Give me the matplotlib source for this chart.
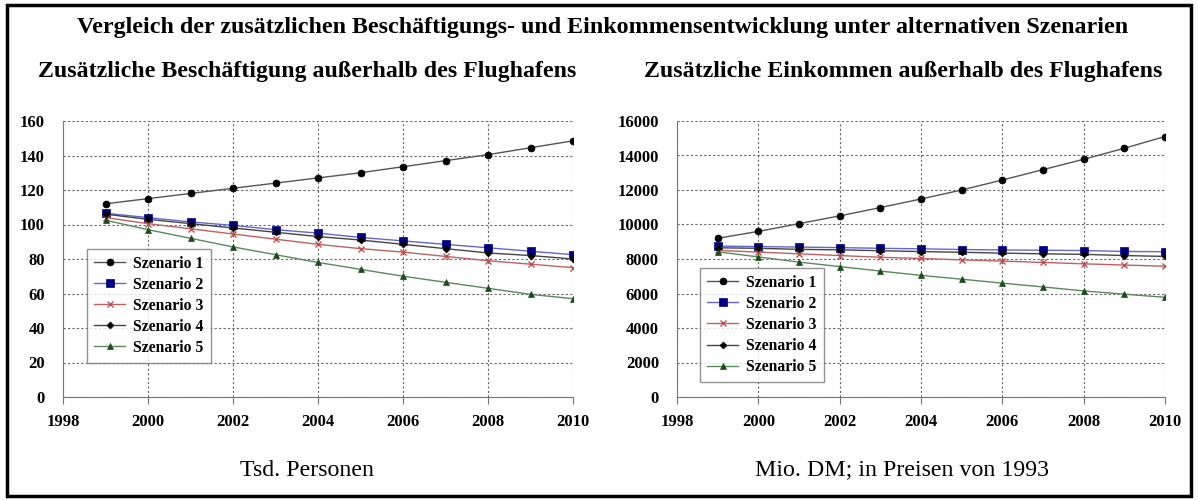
import numpy as np
import matplotlib.pyplot as plt
from matplotlib.patches import Rectangle

years = list(range(1999, 2011))
labels = ['Szenario 1', 'Szenario 2', 'Szenario 3', 'Szenario 4', 'Szenario 5']

# Tsd. Personen
besch_1 = [112, 115, 118, 121, 124, 127, 130, 133.5, 137, 140.5, 144.5, 148.5]
besch_2 = [106.5, 104, 101.5, 99.5, 97, 95, 92.5, 90.5, 88.5, 86.5, 84.5, 82.5]
besch_3 = [104, 100.5, 97.5, 94.5, 91.5, 88.5, 86, 84, 81.5, 79, 77, 75]
besch_4 = [106, 103, 100.5, 98, 95.5, 93, 91, 88.5, 86, 83.5, 82, 80]
besch_5 = [102.5, 97, 92, 87, 82.5, 78, 74, 70, 66.5, 63, 59.5, 57]

# Mio. DM
eink_1 = [9200, 9600, 10050, 10500, 10980, 11480, 12000, 12580, 13180, 13780, 14420, 15100]
eink_2 = [8750, 8720, 8690, 8660, 8620, 8590, 8550, 8520, 8510, 8490, 8440, 8420]
eink_3 = [8500, 8400, 8300, 8200, 8100, 8030, 7950, 7880, 7800, 7720, 7650, 7580]
eink_4 = [8650, 8620, 8560, 8530, 8480, 8430, 8390, 8340, 8300, 8270, 8200, 8150]
eink_5 = [8420, 8120, 7820, 7560, 7300, 7050, 6830, 6600, 6380, 6150, 5960, 5780]

plt.rcParams['font.family'] = ['Liberation Serif', 'DejaVu Serif']

colors = ['black', '#000080', '#c0504d', 'black', '#1a4d1a']
lcolors = ['#555555', '#6666cc', '#c06060', '#444444', '#5a8a5a']
markers = ['o', 's', 'x', 'D', '^']
msizes = [5, 6, 5, 3.5, 5]

fig = plt.figure(figsize=(11.98, 5.0), dpi=100)
fig.patches.append(Rectangle((0.006, 0.008), 0.988, 0.982, transform=fig.transFigure,
                             fill=False, edgecolor='black', linewidth=2.5))

fig.text(603 / 1198, 1 - 27 / 500,
         'Vergleich der zusätzlichen Beschäftigungs- und Einkommensentwicklung unter alternativen Szenarien',
         ha='center', va='center', fontsize=17.3, fontweight='bold')


def draw(ax, data, ymax, ystep, legend_pos):
    for i, vals in enumerate(data):
        ax.plot(years, vals, color=lcolors[i], lw=1, marker=markers[i], ms=msizes[i],
                mfc=colors[i], mec=colors[i], mew=1 if markers[i] == 'x' else 0.5,
                label=labels[i])
    ax.set_xlim(1998, 2010)
    ax.set_ylim(0, ymax)
    ax.set_xticks(range(1998, 2011, 2))
    ax.set_yticks(np.arange(0, ymax + 1, ystep))
    ax.grid(True, ls=(0, (2, 2)), color='#666666', lw=0.8)
    for s in ['top', 'right']:
        ax.spines[s].set_visible(False)
    for s in ['left', 'bottom']:
        ax.spines[s].set_color('#777777')
    ax.tick_params(axis='x', length=5, color='#777777', pad=7)
    ax.tick_params(axis='y', length=0, pad=13)
    for t in ax.get_xticklabels() + ax.get_yticklabels():
        t.set_fontweight('bold')
        t.set_fontsize(12)
    leg = ax.legend(loc='lower left', bbox_to_anchor=legend_pos, borderaxespad=0, frameon=True,
                    fancybox=False, edgecolor='#777777', prop={'weight': 'bold', 'size': 11.3},
                    handlelength=2.0, handletextpad=0.5, labelspacing=0.32, borderpad=0.45)
    leg.get_frame().set_linewidth(1)


ax1 = fig.add_axes([63 / 1198, 0.206, 510 / 1198, 0.552])
draw(ax1, [besch_1, besch_2, besch_3, besch_4, besch_5], 160, 20, (0.047, 0.123))

ax2 = fig.add_axes([677 / 1198, 0.206, 488 / 1198, 0.552])
draw(ax2, [eink_1, eink_2, eink_3, eink_4, eink_5], 16000, 2000, (0.047, 0.054))

fig.text(307 / 1198, 1 - 72 / 500, 'Zusätzliche Beschäftigung außerhalb des Flughafens',
         ha='center', va='center', fontsize=17.2, fontweight='bold')
fig.text(903 / 1198, 1 - 72 / 500, 'Zusätzliche Einkommen außerhalb des Flughafens',
         ha='center', va='center', fontsize=17.2, fontweight='bold')
fig.text(307 / 1198, 1 - 470 / 500, 'Tsd. Personen', ha='center', va='center', fontsize=17.2)
fig.text(902 / 1198, 1 - 470 / 500, 'Mio. DM; in Preisen von 1993', ha='center', va='center', fontsize=17.2)

plt.savefig('out.png', dpi=100)
